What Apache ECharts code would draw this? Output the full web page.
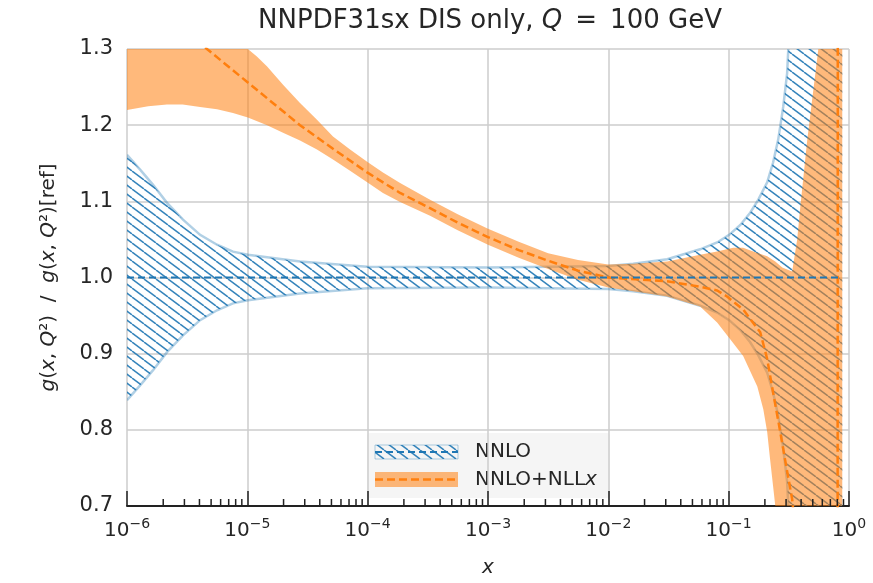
<!DOCTYPE html>
<html><head><meta charset="utf-8">
<script src="https://cdn.jsdelivr.net/npm/echarts@6/dist/echarts.min.js"></script>
<style>html,body{margin:0;padding:0;background:#fff}#c{width:873px;height:583px}</style>
</head><body><div id="c"></div>
<script>
// ---- data ----
const xTickValues = [1e-6, 1e-5, 1e-4, 1e-3, 1e-2, 1e-1, 1];
const yTickValues = [0.7, 0.8, 0.9, 1.0, 1.1, 1.2, 1.3];

// NNLO band (ratio to its own central value)
const nnloX     = [1e-6, 1.28e-6, 1.64e-6, 2.15e-6, 2.92e-6, 4.05e-6, 5.6e-6, 7.6e-6, 1.01e-5, 2.74e-5, 9.9e-5, 1e-3, 1e-2, 0.0161, 0.0308, 0.0579, 0.0802, 0.101, 0.125, 0.151, 0.176, 0.209, 0.234, 0.258, 0.284, 0.306, 0.313, 0.355, 0.879];
const nnloUpper = [1.161, 1.142, 1.122, 1.098, 1.076, 1.056, 1.043, 1.034, 1.030, 1.021, 1.014, 1.013, 1.015, 1.018, 1.024, 1.037, 1.046, 1.056, 1.069, 1.085, 1.102, 1.125, 1.151, 1.181, 1.224, 1.268, 1.300, 1.420, 3.000];
const nnloLower = [0.839, 0.858, 0.878, 0.902, 0.924, 0.944, 0.957, 0.966, 0.970, 0.979, 0.986, 0.987, 0.985, 0.982, 0.976, 0.963, 0.954, 0.944, 0.931, 0.915, 0.898, 0.875, 0.849, 0.819, 0.776, 0.732, 0.700, 0.580, -1.000];
const nnloCentralX = [1e-6, 0.87];
const nnloCentral  = [1.0, 1.0];

// NNLO+NLLx band
const nllxUpperX = [1e-6, 4.0e-6, 1.01e-5, 1.2e-5, 1.46e-5, 1.98e-5, 2.74e-5, 3.79e-5, 5.15e-5, 7.14e-5, 9.9e-5, 1.34e-4, 1.86e-4, 3.3e-4, 5.6e-4, 1e-3, 1.8e-3, 3.16e-3, 5.6e-3, 1e-2, 0.0161, 0.0308, 0.0579, 0.0802, 0.109, 0.132, 0.160, 0.209, 0.244, 0.279, 0.337, 0.371, 0.394, 0.450, 0.505, 0.556, 0.700, 0.879];
const nllxUpper  = [1.52, 1.38, 1.300, 1.290, 1.277, 1.253, 1.229, 1.207, 1.185, 1.168, 1.152, 1.138, 1.124, 1.102, 1.083, 1.064, 1.047, 1.032, 1.023, 1.017, 1.018, 1.021, 1.030, 1.034, 1.039, 1.039, 1.034, 1.028, 1.021, 1.013, 1.008, 1.050, 1.093, 1.181, 1.246, 1.300, 1.60, 1.80];
const nllxLowerX = [1e-6, 1.5e-6, 2.15e-6, 2.9e-6, 4.05e-6, 5.6e-6, 7.6e-6, 1.01e-5, 1.46e-5, 1.98e-5, 2.74e-5, 3.79e-5, 5.15e-5, 7.14e-5, 9.9e-5, 1.34e-4, 1.86e-4, 3.3e-4, 5.6e-4, 1e-3, 1.8e-3, 3.16e-3, 5.6e-3, 1e-2, 0.0161, 0.0308, 0.0579, 0.0802, 0.103, 0.132, 0.173, 0.194, 0.209, 0.221, 0.234, 0.244, 0.300, 0.879];
const nllxLower  = [1.220, 1.225, 1.227, 1.227, 1.224, 1.221, 1.216, 1.210, 1.200, 1.190, 1.180, 1.168, 1.155, 1.140, 1.125, 1.111, 1.099, 1.081, 1.062, 1.043, 1.026, 1.011, 0.997, 0.987, 0.982, 0.975, 0.962, 0.941, 0.919, 0.897, 0.857, 0.827, 0.797, 0.761, 0.726, 0.700, 0.450, 0.000];
const nllxCentralX = [1e-6, 4.62e-6, 1.01e-5, 2.74e-5, 5.15e-5, 9.9e-5, 1.86e-4, 3.3e-4, 5.6e-4, 1e-3, 1.8e-3, 3.16e-3, 5.6e-3, 1e-2, 0.0308, 0.0579, 0.0802, 0.097, 0.132, 0.183, 0.209, 0.234, 0.263, 0.301, 0.337, 0.394, 0.50, 0.800, 0.813];
const nllxCentral  = [1.400, 1.300, 1.256, 1.200, 1.169, 1.138, 1.111, 1.091, 1.072, 1.053, 1.036, 1.022, 1.009, 1.000, 0.995, 0.988, 0.983, 0.975, 0.958, 0.928, 0.893, 0.849, 0.805, 0.752, 0.709, 0.600, 0.300, -0.500, 3.000];

const seriesNames = ['NNLO', 'NNLO+NLLx'];
const titleText = 'NNPDF31sx DIS only, {i|Q}\u2002=\u2002100 GeV';
const yAxisTitle = '{i|g}({i|x}, {i|Q}\u00b2)  /  {i|g}({i|x}, {i|Q}\u00b2)[ref]';

// ---- style ----
const FONT = 'DejaVu Sans';
const TXT = '#262626';
const BLUE = '#1f77b4';
const ORANGE = '#ff7f0e';

function hatchCanvas(w, h, color, lw) {
  const c = document.createElement('canvas');
  c.width = w; c.height = h;
  const g = c.getContext('2d');
  g.strokeStyle = color; g.lineWidth = lw;
  for (const dx of [-w, 0, w]) { g.beginPath(); g.moveTo(dx, 0); g.lineTo(dx + w, h); g.stroke(); }
  return c;
}
const blueHatch = { image: hatchCanvas(12, 9, 'rgba(31,119,180,0.9)', 1.5), repeat: 'repeat' };

const minorTicks = [];
for (let d = -6; d < 0; d++) for (let m = 2; m <= 9; m++) minorTicks.push(m * Math.pow(10, d));

function bandRender(upX, up, loX, lo, fill, edge) {
  return function (params, api) {
    if (params.dataIndex !== 0) return;
    const top = upX.map((x, i) => api.coord([x, up[i]]));
    const bot = loX.map((x, i) => api.coord([x, lo[i]]));
    const pts = top.concat(bot.slice().reverse());
    const cs = params.coordSys;
    const children = [{ type: 'polygon', shape: { points: pts }, style: { fill: fill, stroke: null } }];
    if (edge) {
      children.push({ type: 'polyline', shape: { points: top }, style: { fill: null, stroke: edge, lineWidth: 2.5 } });
      children.push({ type: 'polyline', shape: { points: bot }, style: { fill: null, stroke: edge, lineWidth: 2.5 } });
    }
    return { type: 'group', children: children,
      clipPath: { type: 'rect', shape: { x: cs.x, y: cs.y, width: cs.width, height: cs.height } } };
  };
}

const chart = echarts.init(document.getElementById('c'), null, { renderer: 'canvas' });

const supLabel = v => {
  const e = Math.round(Math.log10(v));
  return '{b|10}{s|' + (e < 0 ? '\u2212' + (-e) : String(e)) + '}';
};

const legendX = 367, legendY = 433;

chart.setOption({
  animation: false,
  backgroundColor: '#fff',
  grid: { left: 127, right: 24, top: 49, bottom: 76, containLabel: false },
  xAxis: {
    type: 'log', logBase: 10, min: xTickValues[0], max: xTickValues[xTickValues.length - 1], splitNumber: 6,
    name: 'x', nameLocation: 'middle', nameGap: 52,
    nameTextStyle: { fontFamily: FONT, fontSize: 20, fontStyle: 'italic', color: TXT },
    axisLine: { show: true, lineStyle: { color: '#222', width: 2 } },
    axisTick: { show: true, inside: true, length: 15, lineStyle: { color: '#222', width: 1.5 } },
    minorTick: { show: false },
    splitLine: { show: true, lineStyle: { color: '#cccccc', width: 1.5 } },
    axisLabel: {
      margin: 11, formatter: supLabel, showMinLabel: true, showMaxLabel: true,
      rich: {
        b: { fontFamily: FONT, fontSize: 20, color: TXT, lineHeight: 24, verticalAlign: 'bottom' },
        s: { fontFamily: FONT, fontSize: 14, color: TXT, lineHeight: 14, verticalAlign: 'top' }
      }
    }
  },
  yAxis: {
    type: 'value', min: yTickValues[0], max: yTickValues[yTickValues.length - 1], interval: 0.1,
    name: yAxisTitle,
    nameLocation: 'middle', nameRotate: 90, nameGap: 68,
    nameTextStyle: { fontFamily: FONT, fontSize: 20, color: TXT,
      rich: { i: { fontFamily: FONT, fontSize: 20, fontStyle: 'italic', color: TXT } } },
    axisLine: { show: false }, axisTick: { show: false },
    splitLine: { show: true, lineStyle: { color: '#cccccc', width: 1.5 } },
    axisLabel: { margin: 14, fontFamily: FONT, fontSize: 21, color: TXT, formatter: v => v.toFixed(1) }
  },
  series: [
    { type: 'custom', name: seriesNames[0], z: 2, silent: true,
      data: [[nnloX[0], nnloUpper[0]]], encode: { x: 0, y: 1 },
      renderItem: bandRender(nnloX, nnloUpper, nnloX, nnloLower, blueHatch, 'rgba(31,119,180,0.35)') },
    { type: 'custom', name: seriesNames[1], z: 3, silent: true,
      data: [[nllxLowerX[0], nllxLower[0]]], encode: { x: 0, y: 1 },
      renderItem: bandRender(nllxUpperX, nllxUpper, nllxLowerX, nllxLower, 'rgba(255,127,14,0.55)', null) },
    { type: 'line', name: seriesNames[1] + ' central', z: 4, silent: true, symbol: 'none',
      data: nllxCentralX.map((x, i) => [x, nllxCentral[i]]),
      lineStyle: { color: ORANGE, width: 2.5, type: [8, 4] } },
    { type: 'line', name: seriesNames[0] + ' central', z: 5, silent: true, symbol: 'none',
      data: nnloCentralX.map((x, i) => [x, nnloCentral[i]]),
      lineStyle: { color: BLUE, width: 2, type: [7, 4] } },
    { type: 'custom', name: 'minor ticks', z: 6, silent: true,
      data: minorTicks.map(v => [v, yTickValues[0]]), encode: { x: 0, y: 1 },
      renderItem: function (params, api) {
        const p = api.coord([api.value(0), api.value(1)]);
        return { type: 'line', shape: { x1: p[0], y1: p[1], x2: p[0], y2: p[1] - 7 },
          style: { stroke: '#222', lineWidth: 1.5 } };
      } }
  ],
  graphic: [
    { type: 'text', x: 490, y: 21, z: 10,
      style: { text: titleText, align: 'center', verticalAlign: 'middle',
        fontFamily: FONT, fontSize: 26, fill: TXT,
        rich: { i: { fontFamily: FONT, fontSize: 26, fontStyle: 'italic', fill: TXT } } } },
    { type: 'group', z: 20, children: [
      { type: 'rect', shape: { x: legendX, y: legendY, width: 243, height: 65, r: 3 },
        style: { fill: 'rgba(244,244,244,0.95)', stroke: null } },
      { type: 'rect', shape: { x: 375, y: 445, width: 83, height: 14 },
        style: { fill: blueHatch, stroke: 'rgba(31,119,180,0.35)', lineWidth: 1 } },
      { type: 'line', shape: { x1: 375, y1: 452, x2: 458, y2: 452 },
        style: { stroke: BLUE, lineWidth: 2, lineDash: [7, 4] } },
      { type: 'rect', shape: { x: 375, y: 472, width: 83, height: 15 },
        style: { fill: 'rgba(255,127,14,0.55)', stroke: null } },
      { type: 'line', shape: { x1: 375, y1: 479.5, x2: 458, y2: 479.5 },
        style: { stroke: ORANGE, lineWidth: 2.5, lineDash: [8, 4] } },
      { type: 'text', x: 475, y: 452,
        style: { text: 'NNLO', fontFamily: FONT, fontSize: 20, fill: TXT, verticalAlign: 'middle' } },
      { type: 'text', x: 475, y: 480,
        style: { text: 'NNLO+NLL{i|x}', fontFamily: FONT, fontSize: 20, fill: TXT, verticalAlign: 'middle',
          rich: { i: { fontFamily: FONT, fontSize: 20, fontStyle: 'italic', fill: TXT } } } }
    ] }
  ]
});
</script>
</body></html>
